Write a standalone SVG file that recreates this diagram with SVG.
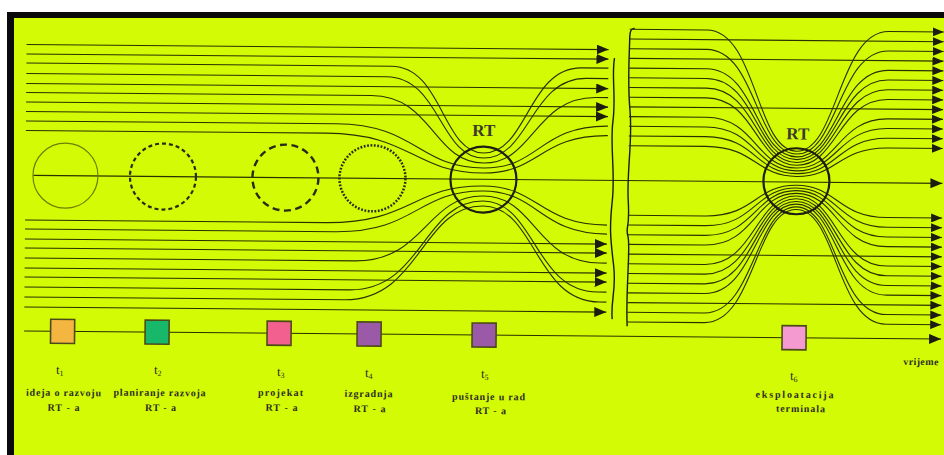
<svg xmlns="http://www.w3.org/2000/svg" width="944" height="455" viewBox="0 0 944 455">
<style>
.ln{fill:none;stroke:#2b3000;stroke-width:1.1}
.ar{marker-end:url(#arr)}
.ar2{marker-end:url(#arr2)}
.brk{fill:none;stroke:#1a1a10;stroke-width:1.4}
.lbl{font-family:"Liberation Serif","Times New Roman",serif;font-weight:bold;font-size:10px;fill:#2d2d1e;text-anchor:middle}
.t{font-family:"Liberation Serif","Times New Roman",serif;font-size:13px;fill:#2d2d1e;text-anchor:middle}
.sub{font-size:8px}
.rt{font-family:"Liberation Serif","Times New Roman",serif;font-weight:bold;font-size:17px;fill:#3a3a2c;text-anchor:middle}
.sq{stroke:#4d4a1a;stroke-width:1.6}
.rc{fill:none;stroke:#1e1e14;stroke-width:2.2}
</style>
<defs>
<marker id="arr" viewBox="0 0 12 10" refX="12" refY="5" markerWidth="12" markerHeight="10" markerUnits="userSpaceOnUse" orient="auto"><path d="M0,0 L12,5 L0,10 Z" fill="#1c1c10"/></marker>
<marker id="arr2" viewBox="0 0 11 9" refX="11" refY="4.5" markerWidth="11" markerHeight="9" markerUnits="userSpaceOnUse" orient="auto"><path d="M0,0 L11,4.5 L0,9 Z" fill="#1c1c10"/></marker>
</defs>
<rect width="944" height="455" fill="#ffffff"/>
<rect x="14" y="17" width="930" height="438" fill="#d3fb05"/>
<rect x="7" y="12" width="937" height="6" fill="#0a0a0a"/>
<rect x="7" y="12" width="7" height="443" fill="#0a0a0a"/>
<g transform="rotate(0.5 480 230)">
<g id="connectors">
<path class="ln ar" d="M25,48.5 H607"/>
<path class="ln ar" d="M25,58 H607"/>
<path class="ln ar" d="M25,87.5 H607"/>
<path class="ln ar" d="M25,106 H607"/>
<path class="ln ar" d="M25,115.5 H607"/>
<path class="ln ar" d="M25,243 H607"/>
<path class="ln ar" d="M25,252 H607"/>
<path class="ln ar" d="M25,272 H607"/>
<path class="ln ar" d="M25,281 H607"/>
<path class="ln ar" d="M25,311 H607"/>
<path class="ln" d="M25,67 H390 C441.2,67 441.2,153 483,153 C526.7,153 526.7,67 580,67 H607"/>
<path class="ln" d="M25,77.5 H385 C438.9,77.5 438.9,158 483,158 C528.9,158 528.9,77.5 585,77.5 H607"/>
<path class="ln" d="M25,96.5 H370 C432.2,96.5 432.2,163 483,163 C533.4,163 533.4,96.5 595,96.5 H607"/>
<path class="ln" d="M25,125 H335 C416.4,125 416.4,168 483,168 C538.8,168 538.8,125 607,125"/>
<path class="ln" d="M25,134.5 H325 C411.9,134.5 411.9,173 483,173 C538.8,173 538.8,134.5 607,134.5"/>
<path class="ln" d="M25,224 H325 C411.9,224 411.9,186 483,186 C538.8,186 538.8,224 607,224"/>
<path class="ln" d="M25,233 H335 C416.4,233 416.4,191 483,191 C538.8,191 538.8,233 607,233"/>
<path class="ln" d="M25,262 H355 C425.4,262 425.4,196 483,196 C535.7,196 535.7,262 600,262 H607"/>
<path class="ln" d="M25,291 H350 C423.2,291 423.2,201 483,201 C534.8,201 534.8,291 598,291 H607"/>
<path class="ln" d="M25,301 H345 C420.9,301 420.9,206 483,206 C535.7,206 535.7,301 600,301 H607"/>
<path class="ln ar" d="M33,179.3 H942"/>
<path class="ln ar" d="M25,335 H942"/>
<path class="brk" d="M613,57 C610,75 615,95 612,120 S615,170 612,200 S611,240 614,265 S611,300 613,318"/>
<path class="brk" d="M633,27 C628,27 628,33 628,40 S626,80 629,110 S626,170 628,200 S625,225 628,235 S626,290 628,325"/>
<path class="ln ar2" d="M628,37.7 H942"/>
<path class="ln ar2" d="M628,57.1 H942"/>
<path class="ln ar2" d="M628,105.6 H942"/>
<path class="ln ar2" d="M628,252.8 H942"/>
<path class="ln ar2" d="M628,301.3 H942"/>
<path class="ln ar2" d="M628,28 H705 C755,28 755,148.5 796,148.5 C837,148.5 837,28 887,28 H942"/>
<path class="ln ar2" d="M628,47.4 H705 C755,47.4 755,151.3 796,151.3 C837,151.3 837,47.4 887,47.4 H942"/>
<path class="ln ar2" d="M628,66.8 H705 C755,66.8 755,154.1 796,154.1 C837,154.1 837,66.8 887,66.8 H942"/>
<path class="ln ar2" d="M628,76.5 H705 C755,76.5 755,156.9 796,156.9 C837,156.9 837,76.5 887,76.5 H942"/>
<path class="ln ar2" d="M628,86.2 H705 C755,86.2 755,159.7 796,159.7 C837,159.7 837,86.2 887,86.2 H942"/>
<path class="ln ar2" d="M628,95.9 H705 C755,95.9 755,162.5 796,162.5 C837,162.5 837,95.9 887,95.9 H942"/>
<path class="ln ar2" d="M628,115.3 H705 C755,115.3 755,165.3 796,165.3 C837,165.3 837,115.3 887,115.3 H942"/>
<path class="ln ar2" d="M628,125 H705 C755,125 755,168.1 796,168.1 C837,168.1 837,125 887,125 H942"/>
<path class="ln ar2" d="M628,134.7 H705 C755,134.7 755,170.9 796,170.9 C837,170.9 837,134.7 887,134.7 H942"/>
<path class="ln ar2" d="M628,144.4 H705 C755,144.4 755,173.7 796,173.7 C837,173.7 837,144.4 887,144.4 H942"/>
<path class="ln ar2" d="M628,214 H705 C755,214 755,182.5 796,182.5 C837,182.5 837,214 887,214 H942"/>
<path class="ln ar2" d="M628,223.7 H705 C755,223.7 755,185.2 796,185.2 C837,185.2 837,223.7 887,223.7 H942"/>
<path class="ln ar2" d="M628,233.4 H705 C755,233.4 755,187.9 796,187.9 C837,187.9 837,233.4 887,233.4 H942"/>
<path class="ln ar2" d="M628,243.1 H705 C755,243.1 755,190.6 796,190.6 C837,190.6 837,243.1 887,243.1 H942"/>
<path class="ln ar2" d="M628,262.5 H705 C755,262.5 755,193.3 796,193.3 C837,193.3 837,262.5 887,262.5 H942"/>
<path class="ln ar2" d="M628,272.2 H705 C755,272.2 755,196 796,196 C837,196 837,272.2 887,272.2 H942"/>
<path class="ln ar2" d="M628,281.9 H705 C755,281.9 755,198.7 796,198.7 C837,198.7 837,281.9 887,281.9 H942"/>
<path class="ln ar2" d="M628,291.6 H705 C755,291.6 755,201.4 796,201.4 C837,201.4 837,291.6 887,291.6 H942"/>
<path class="ln ar2" d="M628,311 H705 C755,311 755,204.1 796,204.1 C837,204.1 837,311 887,311 H942"/>
<path class="ln ar2" d="M628,320.7 H705 C755,320.7 755,206.8 796,206.8 C837,206.8 837,320.7 887,320.7 H942"/>
</g>
<g id="stage-circle-1"><circle cx="65" cy="179.3" r="32.5" fill="none" stroke="#6f7d00" stroke-width="1.2"/></g>
<g id="stage-circle-2"><circle cx="162.5" cy="179.3" r="33" fill="none" stroke="#2a2a1a" stroke-width="2.2" stroke-dasharray="4 3"/></g>
<g id="stage-circle-3"><circle cx="285" cy="179.3" r="33" fill="none" stroke="#2a2a1a" stroke-width="2.4" stroke-dasharray="7 4.5"/></g>
<g id="stage-circle-4"><circle cx="372" cy="179.3" r="33" fill="none" stroke="#2a2a1a" stroke-width="2.5" stroke-dasharray="1.8 1.6"/></g>
<g id="rt-1"><circle class="rc" cx="483" cy="179.5" r="33"/><text class="rt" x="483" y="136">RT</text></g>
<g id="rt-2"><circle class="rc" cx="796" cy="178.5" r="33"/><text class="rt" x="797" y="136.7">RT</text></g>
<g id="node-t1"><rect class="sq" x="51.5" y="323" width="24" height="24" fill="#f5b541"/>
<text class="t" x="61" y="377.6">t<tspan class="sub" dy="2">1</tspan></text>
<text class="lbl" x="65" y="399.6" textLength="75">ideja o razvoju</text>
<text class="lbl" x="65" y="414.6" textLength="32">RT - a</text></g>
<g id="node-t2"><rect class="sq" x="146" y="323" width="24" height="24" fill="#18b86a"/>
<text class="t" x="159" y="376.8">t<tspan class="sub" dy="2">2</tspan></text>
<text class="lbl" x="161" y="398.8" textLength="92">planiranje razvoja</text>
<text class="lbl" x="162" y="413.8" textLength="31">RT - a</text></g>
<g id="node-t3"><rect class="sq" x="268" y="323" width="24" height="24" fill="#f2608f"/>
<text class="t" x="282" y="377.7">t<tspan class="sub" dy="2">3</tspan></text>
<text class="lbl" x="282" y="397.7" textLength="45">projekat</text>
<text class="lbl" x="283" y="412.7" textLength="32">RT - a</text></g>
<g id="node-t4"><rect class="sq" x="358" y="323" width="24" height="24" fill="#9b5aa8"/>
<text class="t" x="370" y="378">t<tspan class="sub" dy="2">4</tspan></text>
<text class="lbl" x="370" y="398" textLength="48">izgradnja</text>
<text class="lbl" x="371" y="413" textLength="32">RT - a</text></g>
<g id="node-t5"><rect class="sq" x="473" y="323" width="24" height="24" fill="#9b5aa8"/>
<text class="t" x="486" y="378">t<tspan class="sub" dy="2">5</tspan></text>
<text class="lbl" x="490" y="400" textLength="73">puštanje u rad</text>
<text class="lbl" x="492" y="414" textLength="31">RT - a</text></g>
<g id="node-t6"><rect class="sq" x="783" y="323" width="24" height="24" fill="#f49ad0"/>
<text class="t" x="795" y="377.2">t<tspan class="sub" dy="2">6</tspan></text>
<text class="lbl" x="796" y="395.2" textLength="78">eksploatacija</text>
<text class="lbl" x="802" y="409.2" textLength="49">terminala</text></g>
<g id="axis-label"><text class="lbl" x="922" y="361.2" textLength="35">vrijeme</text></g>
</g>
</svg>
